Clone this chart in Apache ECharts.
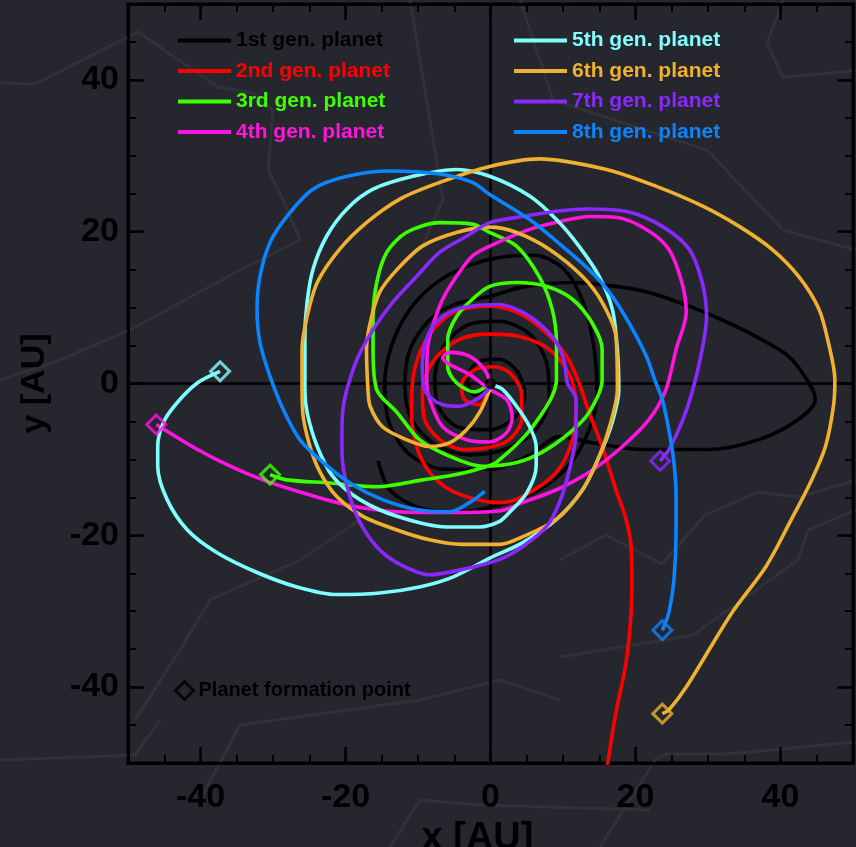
<!DOCTYPE html>
<html><head><meta charset="utf-8">
<script src="https://cdn.jsdelivr.net/npm/echarts@6/dist/echarts.min.js"></script>
<style>html,body{margin:0;padding:0;background:#26272e;}#c{width:856px;height:847px;}</style>
</head><body><div id="c"></div><script>
const seriesNames = ['1st gen. planet','2nd gen. planet','3rd gen. planet','4th gen. planet','5th gen. planet','6th gen. planet','7th gen. planet','8th gen. planet'];
const seriesColors = ['#000000','#ff0000','#3cff00','#ff14e0','#80ffff','#efb12f','#8a28ff','#0a84ff'];
const majorTicks = [-40,-20,0,20,40];
const starPos = [[0,0]];
const gen1 = [[-15.5,-10.2],[-13.9,-14.0],[-9.8,-16.4],[-4.3,-16.9],[1.2,-16.0],[6.7,-14.0],[10.9,-10.7],[13.6,-6.1],[14.7,-1.5],[14.3,4.5],[12.9,10.4],[10.2,15.0],[6.1,16.9],[1.2,16.6],[-3.6,15.3],[-7.7,13.1],[-11.1,9.8],[-13.6,5.1],[-14.6,-0.1],[-13.9,-5.4],[-11.1,-9.4],[-6.3,-11.3],[-0.1,-11.3],[5.4,-9.4],[9.5,-7.0],[14.0,-7.8],[20.9,-8.7],[30.1,-8.7],[37.0,-7.4],[42.5,-4.7],[44.8,-2.1],[43.9,0.1],[41.1,3.6],[36.6,6.2],[31.9,8.4],[27.4,10.2],[21.9,12.0],[17.3,12.8],[11.3,13.3],[4.4,12.7],[0,11.5],[-5.0,10.4],[-8.4,8.4],[-11.1,4.5],[-11.8,-0.1],[-10.9,-4.7],[-7.7,-8.0],[-2.9,-9.4],[1.9,-8.7],[6.1,-6.3],[8.1,-2.1],[7.8,2.5],[5.4,6.5],[1.2,8.2],[-2.9,7.8],[-6.3,5.1],[-7.7,0.5],[-7.0,-3.4],[-4.3,-5.8],[-0.1,-6.1],[3.3,-4.5],[4.7,-1.5],[3.7,1.6],[1.2,3.2],[-1.8,2.8],[-3.2,0.5],[-2.2,-1.5],[0,0]];
const gen2 = [[16.0,-51],[17.3,-43.4],[18.7,-36.8],[19.4,-30.2],[19.5,-25.9],[19.4,-21.5],[18.7,-17.9],[17.3,-14.0],[15.4,-8.3],[13.6,-3.8],[12.2,0.1],[10.5,3.6],[7.2,7.1],[3.6,9.4],[-0.1,10.2],[-5.0,9.4],[-8.4,6.5],[-10.5,1.8],[-10.9,-3.8],[-10.2,-8.3],[-8.4,-11.7],[-5.6,-14.0],[-1.9,-15.3],[1.2,-15.7],[4.4,-14.9],[9.1,-11.7],[11.3,-7.4],[11.8,-3.0],[10.9,1.2],[8.1,4.5],[4.0,6.2],[-0.1,6.5],[-4.3,5.8],[-7.7,3.2],[-9.4,-0.8],[-9.1,-4.7],[-7.0,-7.4],[-3.6,-8.7],[-0.1,-8.4],[2.6,-7.4],[4.3,-4.7],[4.3,-1.5],[2.9,1.2],[0.6,2.2],[-2.2,1.8],[-4.0,-0.1],[-3.6,-2.1],[-1.5,-2.8],[0,0]];
const gen3 = [[-30.4,-12.0],[-28.1,-12.7],[-22.1,-13.1],[-15.7,-13.6],[-9.4,-12.7],[-4.7,-12.0],[-1.1,-11.1],[0.8,-10.4],[5.8,-5.7],[9.1,0.5],[9.1,5.4],[8.5,9.8],[6.7,14.1],[3.6,18.1],[-0.1,19.9],[-2.5,21.0],[-7.0,21.2],[-11.6,19.9],[-14.3,17.3],[-15.7,13.3],[-16.2,8.8],[-16.2,4.5],[-15.7,-0.8],[-12.9,-3.8],[-9.8,-7.4],[-5.6,-9.6],[-1.1,-10.9],[3.6,-10.4],[7.2,-9.0],[10.9,-6.5],[13.6,-3.8],[15.4,0.5],[15.4,4.5],[14.0,8.0],[11.3,11.1],[7.7,12.8],[3.6,13.3],[-0.1,12.8],[-2.5,11.1],[-4.7,8.8],[-5.9,5.8],[-5.9,2.2],[-4.7,0.1],[-2.2,-1.1],[0,0]];
const gen4 = [[-46.1,-5.4],[-40.4,-8.7],[-35.9,-10.9],[-31.4,-12.7],[-25.9,-14.4],[-19.8,-16.0],[-12.9,-16.9],[-6.1,-17.0],[1.2,-16.8],[4.4,-15.7],[9.1,-14.0],[13.6,-11.7],[18.2,-8.3],[21.9,-4.7],[24.2,-0.8],[25.6,4.5],[27.0,9.4],[26.4,13.3],[24.6,17.7],[21.5,20.3],[17.3,21.9],[13.6,22.0],[9.9,21.4],[5.4,20.3],[-0.1,18.1],[-2.5,16.8],[-4.7,14.1],[-6.6,11.1],[-8.0,7.5],[-8.7,4.5],[-8.8,0.1],[-8.4,-2.1],[-6.6,-5.7],[-3.3,-7.4],[-0.1,-7.7],[2.2,-6.5],[3.0,-4.4],[2.2,-2.1],[-0.1,-0.8],[-2.9,1.2],[-5.6,2.5],[-6.6,3.4],[-5.6,4.1],[-2.9,3.6],[-0.8,1.8],[0,0]];
const gen5 = [[-37.3,1.6],[-40.4,0.1],[-43.2,-2.5],[-45.1,-5.1],[-45.9,-8.3],[-45.9,-10.9],[-44.6,-15.3],[-41.8,-19.3],[-37.7,-22.3],[-32.2,-24.9],[-26.7,-26.8],[-21.2,-27.8],[-15.3,-27.6],[-9.8,-26.8],[-5.2,-25.5],[-0.1,-23.0],[4.4,-21.0],[9.1,-17.9],[12.7,-14.0],[15.0,-9.6],[16.8,-5.1],[17.7,-0.8],[17.5,4.5],[16.8,9.8],[15.0,14.1],[12.2,18.1],[9.1,21.6],[5.4,24.7],[-0.1,27.3],[-4.7,28.2],[-10.7,27.3],[-16.2,25.6],[-19.8,23.0],[-22.6,19.4],[-24.5,15.0],[-25.3,10.7],[-25.6,6.2],[-25.6,-0.8],[-25.3,-3.8],[-23.9,-8.3],[-21.7,-12.3],[-18.0,-15.3],[-12.9,-17.5],[-6.1,-18.9],[-1.5,-18.9],[1.2,-18.2],[2.6,-17.0],[5.0,-14.4],[6.3,-10.9],[6.3,-8.3],[5.4,-5.7],[3.6,-3.0],[1.7,-0.8],[0.6,-0.3]];
const gen6 = [[23.7,-43.5],[24.6,-43.0],[27.0,-40.0],[33.3,-30.2],[38.0,-24.1],[41.5,-17.9],[44.3,-12.7],[46.2,-8.3],[47.3,-3.0],[47.5,0.5],[46.6,5.4],[45.3,9.8],[42.5,14.1],[38.8,17.7],[34.3,20.7],[29.2,23.4],[22.8,26.0],[16.0,28.2],[6.7,29.6],[-0.1,28.6],[-7.0,26.5],[-12.5,24.3],[-17.1,21.2],[-20.8,17.7],[-23.9,13.3],[-25.3,8.8],[-26.0,4.5],[-26.0,0.5],[-25.9,-3.8],[-24.9,-8.3],[-23.5,-11.7],[-21.2,-14.9],[-17.6,-17.5],[-12.9,-19.3],[-8.4,-20.6],[-3.9,-21.2],[1.2,-21.2],[4.4,-20.2],[9.1,-17.9],[12.7,-14.0],[15.0,-9.6],[16.6,-5.1],[17.5,-0.8],[17.3,6.2],[15.4,10.7],[12.7,14.1],[8.1,17.7],[3.6,19.9],[-0.1,20.6],[-4.7,19.9],[-9.4,18.1],[-12.9,15.0],[-15.3,12.0],[-16.6,8.0],[-17.1,4.5],[-16.9,-0.8],[-16.6,-3.0],[-14.9,-5.7],[-11.6,-7.4],[-8.4,-8.3],[-5.6,-7.8],[-3.3,-6.1],[-1.5,-3.8],[-0.1,-0.8]];
const gen7 = [[23.4,-10.2],[24.6,-8.7],[26.4,-5.1],[27.8,-1.2],[29.2,4.5],[29.8,8.8],[29.2,13.3],[27.4,17.7],[23.7,20.7],[19.1,22.6],[13.6,23.0],[9.1,22.7],[4.4,22.0],[-0.1,21.2],[-3.3,19.4],[-7.0,17.3],[-10.2,14.1],[-13.5,10.7],[-16.2,7.1],[-18.4,3.2],[-19.8,-0.8],[-20.4,-3.8],[-20.5,-7.4],[-20.4,-10.4],[-19.4,-14.9],[-18.0,-18.3],[-15.7,-21.5],[-12.9,-23.6],[-8.4,-25.2],[-3.9,-24.5],[1.2,-23.2],[4.4,-21.5],[7.7,-18.9],[9.5,-15.7],[10.9,-11.3],[11.8,-6.5],[11.8,-2.1],[10.6,0.1],[10.2,2.8],[9.1,5.4],[7.2,7.5],[4.4,9.4],[1.2,10.4],[-2.5,10.2],[-5.6,9.4],[-8.0,7.5],[-9.1,4.9],[-9.4,2.2],[-9.1,-0.8],[-8.0,-2.1],[-6.6,-2.8],[-4.3,-3.0],[-1.9,-2.1],[-0.6,-1.1],[0,-0.3]];
const gen8 = [[23.7,-32.5],[24.6,-30.2],[25.3,-25.9],[25.6,-19.3],[25.6,-14.9],[25.3,-10.4],[24.6,-6.1],[23.7,-2.1],[22.8,0.1],[21.5,3.6],[19.1,8.0],[16.4,12.0],[13.6,15.0],[9.9,18.1],[5.4,21.6],[-0.1,24.9],[-2.5,26.5],[-7.0,27.6],[-13.9,28.0],[-19.8,27.3],[-24.5,25.6],[-28.1,22.0],[-30.4,18.6],[-31.8,14.1],[-32.2,9.8],[-31.8,5.4],[-30.4,0.9],[-28.6,-3.4],[-26.3,-7.4],[-23.1,-10.4],[-19.4,-13.1],[-14.9,-15.3],[-10.2,-16.6],[-5.6,-16.9],[-2.9,-15.7],[-0.8,-14.2]];
const paths = [gen1,gen2,gen3,gen4,gen5,gen6,gen7,gen8];
const formationIdx = [2,3,4,5,6,7]; // planets whose start point lies inside the frame

const FONT = "'Liberation Sans', Arial, Helvetica, sans-serif";
const chart = echarts.init(document.getElementById('c'), null, {renderer:'canvas'});

const lineSeries = paths.map((p,i)=>({
  name: seriesNames[i], type:'line', data:p, xAxisIndex:0, yAxisIndex:0,
  showSymbol:false, smooth:0.3, clip:true, z:3+i,
  lineStyle:{color:seriesColors[i], width:3.6}, itemStyle:{color:seriesColors[i]},
  emphasis:{disabled:true},
  markLine: i===0 ? {silent:true, symbol:'none', label:{show:false}, z:2,
    lineStyle:{color:'#000', width:2.5, type:'solid'}, data:[{xAxis:0},{yAxis:0}]} : undefined
}));

const formationSeries = {
  name:'Planet formation point', type:'scatter', xAxisIndex:0, yAxisIndex:0, z:20,
  symbol:'diamond', symbolSize:19,
  itemStyle:{color:'rgba(0,0,0,0)', borderColor:'#000', borderWidth:3},
  emphasis:{disabled:true},
  data: formationIdx.map(i=>({value:paths[i][0], itemStyle:{borderColor:seriesColors[i]}}))
};
const starSeries = {
  name:'star', type:'scatter', xAxisIndex:0, yAxisIndex:0, z:21, symbol:'circle', symbolSize:11,
  itemStyle:{color:'#000'}, emphasis:{disabled:true}, data:starPos
};

const tickLbl = {fontFamily:FONT, fontWeight:'bold', fontSize:34, color:'#000'};
function minorAxis(pos){ return {type:'value', position:pos, min:-50, max:50, interval:5,
  axisLine:{show:true, onZero:false, lineStyle:{color:'#000', width:3}}, axisTick:{show:true, inside:true, length:8, lineStyle:{color:'#000', width:2}},
  axisLabel:{show:false}, splitLine:{show:false}}; }
function majorAxis(pos, labels, extra){ return Object.assign({type:'value', position:pos, min:-50, max:50,
  axisLine:{show:false, onZero:false}, axisTick:{show:true, inside:true, length:16, customValues:majorTicks, lineStyle:{color:'#000', width:2.5}},
  axisLabel:labels ? Object.assign({show:true, customValues:majorTicks}, tickLbl, labels) : {show:false},
  splitLine:{show:false}}, extra||{}); }

const bgLine = (pts)=>({type:'polyline', z:0, silent:true, shape:{points:pts}, style:{stroke:'#313238', lineWidth:3, fill:null}});
const legText = {fontFamily:FONT, fontWeight:'bold', fontSize:21};

const option = {
  backgroundColor:'#26272e',
  animation:false,
  graphic:[
    bgLine([[0,83],[35,84],[138,32],[218,87],[253,93],[273,110],[268,170],[283,200],[300,240],[240,270],[130,330],[60,360],[0,380]]),
    bgLine([[410,0],[443,200],[420,250]]),
    bgLine([[783,0],[767,43],[783,77],[843,72],[856,70]]),
    bgLine([[520,0],[553,100],[707,150],[783,230],[856,250]]),
    bgLine([[560,657],[693,635],[798,560],[808,530],[856,510]]),
    bgLine([[560,560],[606,535],[662,564],[705,515],[758,492],[800,497],[856,480]]),
    bgLine([[600,847],[655,760],[665,754],[727,754],[856,742]]),
    bgLine([[135,720],[180,650],[210,600],[300,560],[360,520]]),
    bgLine([[0,760],[135,755],[160,720]]),
    bgLine([[200,800],[240,725],[420,700],[500,680],[560,700]]),
    bgLine([[390,847],[420,800],[480,805],[650,810]])
  ],
  grid:{left:128, top:4, width:725, height:759, show:true, containLabel:false, outerBoundsMode:'none', borderColor:'#000', borderWidth:3, backgroundColor:'transparent'},
  legend:[
    {data:seriesNames.slice(0,4).map((n,i)=>({name:n, textStyle:{color:seriesColors[i]}})),
     left:178, top:30, padding:0, orient:'vertical', icon:'rect', itemWidth:53, itemHeight:4, itemGap:9.5, selectedMode:false,
     textStyle:legText},
    {data:seriesNames.slice(4).map((n,i)=>({name:n, textStyle:{color:seriesColors[i+4]}})),
     left:514, top:30, padding:0, orient:'vertical', icon:'rect', itemWidth:53, itemHeight:4, itemGap:9.5, selectedMode:false,
     textStyle:legText},
    {data:[{name:'Planet formation point', icon:'diamond', itemStyle:{color:'rgba(0,0,0,0)', borderColor:'#000', borderWidth:3}}],
     left:174, top:680, padding:0, itemWidth:18, itemHeight:18, selectedMode:false,
     textStyle:{fontFamily:FONT, fontWeight:'bold', fontSize:20, color:'#000'}}
  ],
  xAxis:[
    minorAxis('bottom'),
    majorAxis('bottom', {margin:18}, {name:'x [AU]', nameLocation:'middle', nameGap:48, nameTextStyle:{fontFamily:FONT, fontWeight:'bold', fontSize:38, color:'#000', padding:[0,26,0,0]}}),
    minorAxis('top'),
    majorAxis('top', null)
  ],
  yAxis:[
    minorAxis('left'),
    majorAxis('left', {margin:9}, {name:'y [AU]', nameLocation:'middle', nameGap:76, nameRotate:90, nameTextStyle:{fontFamily:FONT, fontWeight:'bold', fontSize:34, color:'#000'}}),
    minorAxis('right'),
    majorAxis('right', null)
  ],
  series: lineSeries.concat([formationSeries, starSeries])
};
chart.setOption(option);
</script></body></html>
